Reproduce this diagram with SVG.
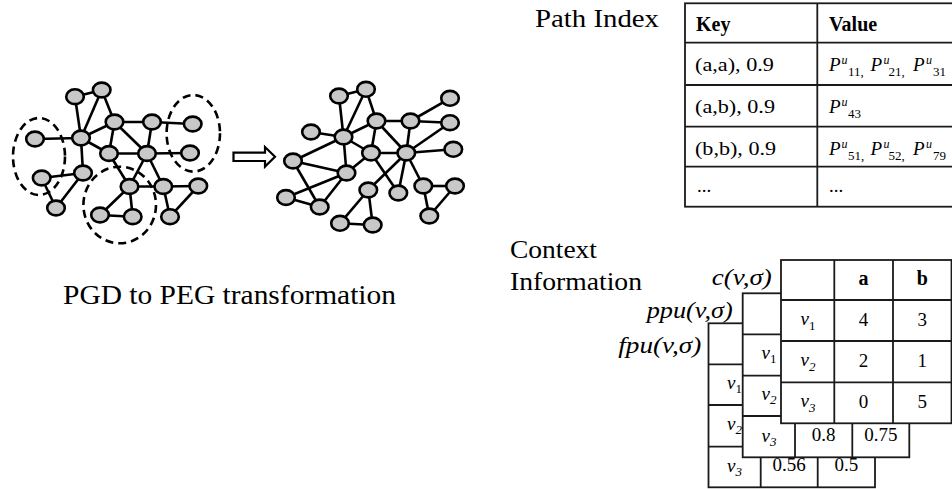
<svg xmlns="http://www.w3.org/2000/svg" width="952" height="489" viewBox="0 0 952 489">
<style>
.n{fill:#c8c8c8;stroke:#000;stroke-width:2.6}
.e line{stroke:#000;stroke-width:2.6}
.d{fill:none;stroke:#000;stroke-width:2.6;stroke-dasharray:8 5}
.t{font-family:"Liberation Serif","DejaVu Serif",serif;fill:#000}
.i{font-style:italic}
.b{font-weight:bold}
.cell{fill:#fff;stroke:#1a1a1a;stroke-width:1.8}
.g line{stroke:#1a1a1a;stroke-width:1.8}
</style>
<rect width="952" height="489" fill="#fff"/>

<!-- Left graph (PGD) -->
<g id="pgd">
<g id="pgd-edges" class="e">
<line x1="75" y1="96.7" x2="101.7" y2="90"/>
<line x1="75" y1="96.7" x2="81" y2="138"/>
<line x1="101.7" y1="90" x2="81" y2="138"/>
<line x1="101.7" y1="90" x2="114.5" y2="122"/>
<line x1="81" y1="138" x2="114.5" y2="122"/>
<line x1="81" y1="138" x2="35" y2="139"/>
<line x1="81" y1="138" x2="109" y2="153.5"/>
<line x1="81" y1="138" x2="83" y2="173"/>
<line x1="114.5" y1="122" x2="152" y2="122"/>
<line x1="114.5" y1="122" x2="109" y2="153.5"/>
<line x1="114.5" y1="122" x2="147" y2="153.5"/>
<line x1="152" y1="122" x2="147" y2="153.5"/>
<line x1="152" y1="122" x2="192.7" y2="124"/>
<line x1="109" y1="153.5" x2="147" y2="153.5"/>
<line x1="147" y1="153.5" x2="190" y2="153"/>
<line x1="109" y1="153.5" x2="129.5" y2="186.5"/>
<line x1="147" y1="153.5" x2="129.5" y2="186.5"/>
<line x1="147" y1="153.5" x2="163.3" y2="186.5"/>
<line x1="129.5" y1="186.5" x2="163.3" y2="186.5"/>
<line x1="163.3" y1="186.5" x2="198.3" y2="186"/>
<line x1="129.5" y1="186.5" x2="100" y2="215"/>
<line x1="129.5" y1="186.5" x2="132.7" y2="216.7"/>
<line x1="100" y1="215" x2="132.7" y2="216.7"/>
<line x1="163.3" y1="186.5" x2="170" y2="216.7"/>
<line x1="198.3" y1="186" x2="170" y2="216.7"/>
<line x1="41.7" y1="178" x2="83" y2="173"/>
<line x1="41.7" y1="178" x2="56" y2="208"/>
<line x1="83" y1="173" x2="56" y2="208"/>
</g>
<g id="pgd-nodes">
<ellipse id="pA" class="n" cx="75" cy="96.7" rx="8.8" ry="7.4"/>
<ellipse id="pB" class="n" cx="101.7" cy="90" rx="8.8" ry="7.4"/>
<ellipse id="pC" class="n" cx="81" cy="138" rx="8.8" ry="7.4"/>
<ellipse id="pD" class="n" cx="114.5" cy="122" rx="8.8" ry="7.4"/>
<ellipse id="pE" class="n" cx="152" cy="122" rx="8.8" ry="7.4"/>
<ellipse id="pF" class="n" cx="192.7" cy="124" rx="8.8" ry="7.4"/>
<ellipse id="pG" class="n" cx="35" cy="139" rx="8.8" ry="7.4"/>
<ellipse id="pH" class="n" cx="109" cy="153.5" rx="8.8" ry="7.4"/>
<ellipse id="pI" class="n" cx="147" cy="153.5" rx="8.8" ry="7.4"/>
<ellipse id="pJ" class="n" cx="190" cy="153" rx="8.8" ry="7.4"/>
<ellipse id="pK" class="n" cx="41.7" cy="178" rx="8.8" ry="7.4"/>
<ellipse id="pL" class="n" cx="83" cy="173" rx="8.8" ry="7.4"/>
<ellipse id="pM" class="n" cx="129.5" cy="186.5" rx="8.8" ry="7.4"/>
<ellipse id="pN" class="n" cx="163.3" cy="186.5" rx="8.8" ry="7.4"/>
<ellipse id="pO" class="n" cx="198.3" cy="186" rx="8.8" ry="7.4"/>
<ellipse id="pP" class="n" cx="56" cy="208" rx="8.8" ry="7.4"/>
<ellipse id="pQ" class="n" cx="100" cy="215" rx="8.8" ry="7.4"/>
<ellipse id="pR" class="n" cx="132.7" cy="216.7" rx="8.8" ry="7.4"/>
<ellipse id="pS" class="n" cx="170" cy="216.7" rx="8.8" ry="7.4"/>
</g>
<g id="pgd-groups">
<ellipse class="d" cx="39" cy="156.5" rx="26" ry="38.5"/>
<ellipse class="d" cx="193.3" cy="133.3" rx="26.7" ry="38.3"/>
<ellipse class="d" cx="119.7" cy="205" rx="36.3" ry="38.3"/>
</g>
</g>

<!-- Transformation arrow -->
<g id="arrow">
<polygon points="233.5,152.7 265,152.7 265,147 275,156.8 265,166.6 265,161 233.5,161" fill="#fff" stroke="#000" stroke-width="2.2" stroke-linejoin="miter"/>
</g>

<!-- Right graph (PEG) -->
<g id="peg">
<g id="peg-edges" class="e">
<line x1="339" y1="96" x2="366" y2="89.3"/>
<line x1="339" y1="96" x2="343.5" y2="137"/>
<line x1="366" y1="89.3" x2="343.5" y2="137"/>
<line x1="366" y1="89.3" x2="376.5" y2="121"/>
<line x1="311" y1="132" x2="343.5" y2="137"/>
<line x1="343.5" y1="137" x2="376.5" y2="121"/>
<line x1="343.5" y1="137" x2="371" y2="153"/>
<line x1="343.5" y1="137" x2="346.5" y2="173"/>
<line x1="343.5" y1="137" x2="293" y2="161"/>
<line x1="293" y1="161" x2="346.5" y2="173"/>
<line x1="293" y1="161" x2="319.7" y2="207"/>
<line x1="286" y1="197.5" x2="346.5" y2="173"/>
<line x1="286" y1="197.5" x2="319.7" y2="207"/>
<line x1="319.7" y1="207" x2="346.5" y2="173"/>
<line x1="346.5" y1="173" x2="371" y2="153"/>
<line x1="376.5" y1="121" x2="371" y2="153"/>
<line x1="376.5" y1="121" x2="406.3" y2="153"/>
<line x1="376.5" y1="121" x2="410.5" y2="121"/>
<line x1="410.5" y1="121" x2="406.3" y2="153"/>
<line x1="410.5" y1="121" x2="450" y2="122.7"/>
<line x1="410.5" y1="121" x2="450" y2="98.3"/>
<line x1="450" y1="122.7" x2="406.3" y2="153"/>
<line x1="406.3" y1="153" x2="453.3" y2="149.3"/>
<line x1="371" y1="153" x2="406.3" y2="153"/>
<line x1="406.3" y1="153" x2="368.3" y2="190"/>
<line x1="371" y1="153" x2="398.3" y2="193"/>
<line x1="406.3" y1="153" x2="398.3" y2="193"/>
<line x1="406.3" y1="153" x2="423.3" y2="186"/>
<line x1="423.3" y1="186" x2="455" y2="186"/>
<line x1="423.3" y1="186" x2="429.3" y2="216"/>
<line x1="455" y1="186" x2="429.3" y2="216"/>
<line x1="368.3" y1="190" x2="340" y2="223.3"/>
<line x1="368.3" y1="190" x2="372.7" y2="225"/>
<line x1="340" y1="223.3" x2="372.7" y2="225"/>
</g>
<g id="peg-nodes">
<ellipse id="qa" class="n" cx="339" cy="96" rx="8.8" ry="7.4"/>
<ellipse id="qb" class="n" cx="366" cy="89.3" rx="8.8" ry="7.4"/>
<ellipse id="qc" class="n" cx="311" cy="132" rx="8.8" ry="7.4"/>
<ellipse id="qd" class="n" cx="343.5" cy="137" rx="8.8" ry="7.4"/>
<ellipse id="qe" class="n" cx="376.5" cy="121" rx="8.8" ry="7.4"/>
<ellipse id="qf" class="n" cx="410.5" cy="121" rx="8.8" ry="7.4"/>
<ellipse id="qg" class="n" cx="450" cy="98.3" rx="8.8" ry="7.4"/>
<ellipse id="qh" class="n" cx="450" cy="122.7" rx="8.8" ry="7.4"/>
<ellipse id="qi" class="n" cx="293" cy="161" rx="8.8" ry="7.4"/>
<ellipse id="qj" class="n" cx="371" cy="153" rx="8.8" ry="7.4"/>
<ellipse id="qk" class="n" cx="406.3" cy="153" rx="8.8" ry="7.4"/>
<ellipse id="ql" class="n" cx="453.3" cy="149.3" rx="8.8" ry="7.4"/>
<ellipse id="qm" class="n" cx="346.5" cy="173" rx="8.8" ry="7.4"/>
<ellipse id="qn" class="n" cx="286" cy="197.5" rx="8.8" ry="7.4"/>
<ellipse id="qo" class="n" cx="319.7" cy="207" rx="8.8" ry="7.4"/>
<ellipse id="qp" class="n" cx="368.3" cy="190" rx="8.8" ry="7.4"/>
<ellipse id="qq" class="n" cx="398.3" cy="193" rx="8.8" ry="7.4"/>
<ellipse id="qr" class="n" cx="423.3" cy="186" rx="8.8" ry="7.4"/>
<ellipse id="qs" class="n" cx="455" cy="186" rx="8.8" ry="7.4"/>
<ellipse id="qt" class="n" cx="340" cy="223.3" rx="8.8" ry="7.4"/>
<ellipse id="qu" class="n" cx="372.7" cy="225" rx="8.8" ry="7.4"/>
<ellipse id="qv" class="n" cx="429.3" cy="216" rx="8.8" ry="7.4"/>
</g>
</g>

<text id="caption" class="t" x="63" y="304" font-size="27" textLength="333" lengthAdjust="spacingAndGlyphs">PGD to PEG transformation</text>

<!-- Path Index -->
<g id="path-index">
<text class="t" x="535" y="27" font-size="26" textLength="124" lengthAdjust="spacingAndGlyphs">Path Index</text>
<g class="g">
<rect class="cell" x="685" y="3.3" width="280" height="203.4"/>
<line x1="817.3" y1="3.3" x2="817.3" y2="206.7"/>
<line x1="685" y1="42.7" x2="952" y2="42.7"/>
<line x1="685" y1="85" x2="952" y2="85"/>
<line x1="685" y1="126.7" x2="952" y2="126.7"/>
<line x1="685" y1="166.7" x2="952" y2="166.7"/>
</g>
<g class="t" font-size="19">
<text class="b" x="696" y="31" font-size="20">Key</text>
<text class="b" x="829" y="31" font-size="20">Value</text>
<text x="695" y="71" textLength="79" lengthAdjust="spacingAndGlyphs">(a,a), 0.9</text>
<text x="695" y="113" textLength="80" lengthAdjust="spacingAndGlyphs">(a,b), 0.9</text>
<text x="695" y="155" textLength="81" lengthAdjust="spacingAndGlyphs">(b,b), 0.9</text>
<text x="697" y="192">...</text>
<text x="829" y="192">...</text>
<text><tspan class="i" x="829" y="71">P</tspan><tspan class="i" x="841.5" y="64" font-size="12">u</tspan><tspan x="848" y="76" font-size="13">11,</tspan><tspan class="i" x="870.5" y="71">P</tspan><tspan class="i" x="883.5" y="64" font-size="12">u</tspan><tspan x="888.5" y="76" font-size="13">21,</tspan><tspan class="i" x="913" y="71">P</tspan><tspan class="i" x="926" y="64" font-size="12">u</tspan><tspan x="933" y="76" font-size="13">31</tspan></text>
<text><tspan class="i" x="829" y="113">P</tspan><tspan class="i" x="841.5" y="106" font-size="12">u</tspan><tspan x="848" y="118" font-size="13">43</tspan></text>
<text><tspan class="i" x="829" y="155">P</tspan><tspan class="i" x="841.5" y="148" font-size="12">u</tspan><tspan x="848" y="160" font-size="13">51,</tspan><tspan class="i" x="870.5" y="155">P</tspan><tspan class="i" x="883.5" y="148" font-size="12">u</tspan><tspan x="888.5" y="160" font-size="13">52,</tspan><tspan class="i" x="913" y="155">P</tspan><tspan class="i" x="926" y="148" font-size="12">u</tspan><tspan x="933" y="160" font-size="13">79</tspan></text>
</g>
</g>

<!-- Context Information -->
<g id="context">
<text class="t" x="510" y="258" font-size="26" textLength="87" lengthAdjust="spacingAndGlyphs">Context</text>
<text class="t" x="510" y="289.5" font-size="26" textLength="132" lengthAdjust="spacingAndGlyphs">Information</text>
<text class="t i" x="711.7" y="285" font-size="24" textLength="60" lengthAdjust="spacingAndGlyphs">c(v,σ)</text>
<text class="t i" x="646.7" y="318" font-size="24" textLength="86" lengthAdjust="spacingAndGlyphs">ppu(v,σ)</text>
<text class="t i" x="618.3" y="353" font-size="24" textLength="83" lengthAdjust="spacingAndGlyphs">fpu(v,σ)</text>
</g>

<!-- fpu table (back) -->
<g id="fpu-table">
<g class="g">
<rect class="cell" x="708.5" y="323.3" width="166.5" height="164"/>
<line x1="760.7" y1="323.3" x2="760.7" y2="487.3"/>
<line x1="817.7" y1="323.3" x2="817.7" y2="487.3"/>
<line x1="708.5" y1="364.3" x2="875" y2="364.3"/>
<line x1="708.5" y1="405" x2="875" y2="405"/>
<line x1="708.5" y1="446.7" x2="875" y2="446.7"/>
</g>
<g class="t" font-size="19">
<text x="734.5" y="389" text-anchor="middle"><tspan class="i">v</tspan><tspan font-size="13" dy="4">1</tspan></text>
<text x="734.5" y="430" text-anchor="middle"><tspan class="i">v</tspan><tspan class="i" font-size="13" dy="4">2</tspan></text>
<text x="734.5" y="471.5" text-anchor="middle"><tspan class="i">v</tspan><tspan class="i" font-size="13" dy="4">3</tspan></text>
<text x="789.2" y="470.5" text-anchor="middle">0.56</text>
<text x="846.3" y="470.5" text-anchor="middle">0.5</text>
</g>
</g>

<!-- ppu table (middle) -->
<g id="ppu-table">
<g class="g">
<rect class="cell" x="742.7" y="293.3" width="166.6" height="164"/>
<line x1="795" y1="293.3" x2="795" y2="457.3"/>
<line x1="852.3" y1="293.3" x2="852.3" y2="457.3"/>
<line x1="742.7" y1="334.3" x2="909.3" y2="334.3"/>
<line x1="742.7" y1="375.7" x2="909.3" y2="375.7"/>
<line x1="742.7" y1="416" x2="909.3" y2="416"/>
</g>
<g class="t" font-size="19">
<text x="769" y="359" text-anchor="middle"><tspan class="i">v</tspan><tspan font-size="13" dy="4">1</tspan></text>
<text x="769" y="400" text-anchor="middle"><tspan class="i">v</tspan><tspan class="i" font-size="13" dy="4">2</tspan></text>
<text x="769" y="441.5" text-anchor="middle"><tspan class="i">v</tspan><tspan class="i" font-size="13" dy="4">3</tspan></text>
<text x="823.7" y="441" text-anchor="middle">0.8</text>
<text x="880.8" y="441" text-anchor="middle">0.75</text>
</g>
</g>

<!-- c table (front) -->
<g id="c-table">
<g class="g">
<rect class="cell" x="781" y="260" width="170.5" height="163.3"/>
<line x1="834.3" y1="260" x2="834.3" y2="423.3"/>
<line x1="893" y1="260" x2="893" y2="423.3"/>
<line x1="781" y1="300" x2="951.5" y2="300"/>
<line x1="781" y1="341" x2="951.5" y2="341"/>
<line x1="781" y1="382.3" x2="951.5" y2="382.3"/>
</g>
<g class="t" font-size="19">
<text class="b" x="863.6" y="285" text-anchor="middle" font-size="20">a</text>
<text class="b" x="922.2" y="285" text-anchor="middle" font-size="20">b</text>
<text x="808" y="325" text-anchor="middle"><tspan class="i">v</tspan><tspan font-size="13" dy="5">1</tspan></text>
<text x="808" y="366" text-anchor="middle"><tspan class="i">v</tspan><tspan class="i" font-size="13" dy="5">2</tspan></text>
<text x="808" y="407" text-anchor="middle"><tspan class="i">v</tspan><tspan class="i" font-size="13" dy="5">3</tspan></text>
<text x="863.6" y="326" text-anchor="middle">4</text>
<text x="922.2" y="326" text-anchor="middle">3</text>
<text x="863.6" y="367" text-anchor="middle">2</text>
<text x="922.2" y="367" text-anchor="middle">1</text>
<text x="863.6" y="408" text-anchor="middle">0</text>
<text x="922.2" y="408" text-anchor="middle">5</text>
</g>
</g>
</svg>
